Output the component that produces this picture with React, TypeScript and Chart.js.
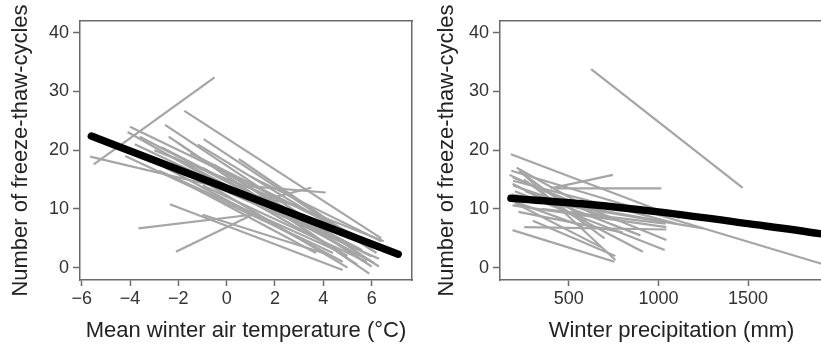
import React, { useEffect, useRef } from "react";
import { Chart, registerables } from "chart.js";

Chart.register(...registerables);

// ---------- Left panel: mean winter air temperature (°C) ----------
const tempX0 = [-5.5, -5.65, -4.0, -4.1, -3.6, -2.55, -2.4, -1.75, -0.95, -2.0, -3.65, -2.1, -2.35, 0.5, 1.5, -4.2, -2.0, -2.5, -1.0, -3.0, -1.5, 0.0, -2.8, -1.0, 0.5, -1.0, -3.8, -3.2, -2.2, -1.5, -0.5, -2.7, -1.2, 1.0];
const tempY0 = [17.6, 18.9, 24.0, 23.1, 22.3, 24.3, 22.3, 26.7, 21.9, 21.2, 6.7, 2.7, 10.8, 14.0, 11.5, 19.0, 15.0, 17.5, 17.0, 20.0, 19.5, 16.0, 16.5, 14.0, 18.5, 9.0, 21.0, 18.5, 18.8, 16.0, 17.5, 20.5, 21.0, 15.5];
const tempX1 = [-0.5, 3.0, 6.3, 5.0, 6.0, 6.3, 5.9, 6.4, 6.0, 5.4, 1.2, 1.0, 4.8, 4.1, 3.5, 4.4, 3.7, 6.3, 5.5, 6.5, 6.0, 5.0, 4.5, 5.8, 6.2, 4.0, 5.2, 4.8, 6.1, 5.0, 6.0, 5.6, 5.2, 6.4];
const tempY1 = [32.4, 10.5, 3.6, 2.0, 1.9, 0.2, -1.0, 5.0, 3.0, 0.5, 9.1, 8.9, -0.4, 12.8, 13.6, 2.5, 2.5, 1.5, 2.0, 4.5, 4.0, 4.0, 3.0, 1.0, 2.5, 2.5, 3.5, 1.0, 0.8, 0.0, 0.2, 3.0, 5.0, 4.5];
const tempFitX = [-5.6, 7.1];
const tempFitY = [22.4, 2.3];
const tempTicks = [-6, -4, -2, 0, 2, 4, 6];

// ---------- Right panel: winter precipitation (mm) ----------
const precX0 = [625, 180, 178, 234, 187, 252, 430, 400, 187, 187, 200, 187, 200, 190, 250, 200, 220, 224, 300, 180, 170, 210, 190, 260, 175, 350];
const precY0 = [33.8, 16.5, 19.3, 16.3, 6.4, 6.9, 13.5, 13.5, 15.4, 14.3, 13.0, 10.6, 12.0, 14.8, 15.0, 11.0, 9.5, 16.5, 8.0, 12.5, 15.8, 17.0, 14.0, 13.0, 11.5, 10.0];
const precX1 = [1470, 1960, 1120, 760, 755, 1044, 1016, 746, 1044, 913, 1035, 1044, 1250, 1100, 700, 680, 800, 600, 760, 1000, 650, 560, 720, 900, 580, 1040];
const precY1 = [13.6, 0.2, 8.4, 1.3, 1.0, 6.5, 13.5, 15.8, 4.7, 2.7, 3.0, 6.9, 6.7, 7.5, 5.0, 3.5, 6.0, 8.0, 2.0, 8.0, 9.0, 11.0, 8.5, 5.5, 7.0, 7.5];
const precFitX = [178, 600, 1000, 1500, 1900, 2030];
const precFitY = [11.8, 10.8, 9.5, 7.5, 5.8, 5.1];
const precTicks = [500, 1000, 1500];

const countTicks = [0, 10, 20, 30, 40];

const FONT = "'Liberation Sans', Arial, Helvetica, sans-serif";
const GRAY = "#a5a5a5";
const AXIS = "#6a6a6a";

function buildDatasets(x0: number[], y0: number[], x1: number[], y1: number[], fx: number[], fy: number[]) {
  const ds: any[] = [
    {
      data: fx.map((x, i) => ({ x, y: fy[i] })),
      borderColor: "#000",
      borderWidth: 7.5,
      borderCapStyle: "round",
      borderJoinStyle: "round",
      cubicInterpolationMode: "monotone",
      pointRadius: 0,
      fill: false,
    },
  ];
  x0.forEach((x, i) => {
    ds.push({
      data: [
        { x, y: y0[i] },
        { x: x1[i], y: y1[i] },
      ],
      borderColor: GRAY,
      borderWidth: 2.2,
      pointRadius: 0,
      fill: false,
    });
  });
  return ds;
}

function makeConfig(opts: {
  datasets: any[];
  xMin: number;
  xMax: number;
  xTicks: number[];
  xTitle: string;
  yTitlePad: number;
  rightPad: number;
}) {
  const tickFont = { family: FONT, size: 18 };
  const titleFont = { family: FONT, size: 22 };
  const fmt = (v: any) => (Number(v) < 0 ? "\u2212" + Math.abs(Number(v)) : String(v));
  return {
    type: "line",
    data: { datasets: opts.datasets },
    options: {
      responsive: false,
      animation: false,
      events: [],
      layout: { padding: { top: 21, right: opts.rightPad, bottom: 0, left: 0 } },
      plugins: { legend: { display: false }, tooltip: { enabled: false } },
      scales: {
        x: {
          type: "linear",
          position: "bottom",
          min: opts.xMin,
          max: opts.xMax,
          afterBuildTicks: (s: any) => {
            s.ticks = opts.xTicks.map((v) => ({ value: v }));
          },
          afterFit: (s: any) => {
            s.height = 68;
          },
          ticks: {
            font: tickFont,
            color: "#333",
            padding: 2,
            maxRotation: 0,
            autoSkip: false,
            callback: fmt,
          },
          grid: {
            display: true,
            drawOnChartArea: false,
            drawTicks: true,
            tickLength: 6,
            tickColor: AXIS,
            tickWidth: 1.5,
          },
          border: { display: true, color: AXIS, width: 1.5 },
          title: {
            display: true,
            text: opts.xTitle,
            font: titleFont,
            color: "#222",
            padding: { top: 0, bottom: 4 },
          },
        },
        y: {
          type: "linear",
          position: "left",
          min: -2.1,
          max: 42,
          afterBuildTicks: (s: any) => {
            s.ticks = countTicks.map((v) => ({ value: v }));
          },
          afterFit: (s: any) => {
            s.width = 80;
          },
          ticks: { font: tickFont, color: "#333", padding: 4, callback: fmt },
          grid: {
            display: true,
            drawOnChartArea: false,
            drawTicks: true,
            tickLength: 7,
            tickColor: AXIS,
            tickWidth: 1.5,
          },
          border: { display: true, color: AXIS, width: 1.5 },
          title: {
            display: true,
            text: "Number of freeze-thaw-cycles",
            font: titleFont,
            color: "#222",
            padding: { top: opts.yTitlePad, bottom: 0 },
          },
        },
        x2: {
          type: "linear",
          position: "top",
          min: opts.xMin,
          max: opts.xMax,
          ticks: { display: false },
          grid: { display: false },
          border: { display: true, color: AXIS, width: 1.5 },
          afterFit: (s: any) => {
            s.height = 0;
          },
        },
        y2: {
          type: "linear",
          position: "right",
          min: -2.1,
          max: 42,
          ticks: { display: false },
          grid: { display: false },
          border: { display: true, color: AXIS, width: 1.5 },
          afterFit: (s: any) => {
            s.width = 0;
          },
        },
      },
    },
  } as any;
}

function Panel(props: { config: any; left: number; width: number }) {
  const ref = useRef<HTMLCanvasElement | null>(null);
  useEffect(() => {
    if (!ref.current) return;
    const chart = new Chart(ref.current, props.config);
    return () => chart.destroy();
  }, []);
  return (
    <canvas
      ref={ref}
      width={props.width}
      height={348}
      style={{ position: "absolute", left: props.left, top: 0, width: props.width, height: 348 }}
    />
  );
}

export default function App() {
  const leftCfg = makeConfig({
    datasets: buildDatasets(tempX0, tempY0, tempX1, tempY1, tempFitX, tempFitY),
    xMin: -6.07,
    xMax: 7.67,
    xTicks: tempTicks,
    xTitle: "Mean winter air temperature (\u00B0C)",
    yTitlePad: 8,
    rightPad: 8,
  });
  const rightCfg = makeConfig({
    datasets: buildDatasets(precX0, precY0, precX1, precY1, precFitX, precFitY),
    xMin: 117,
    xMax: 2029,
    xTicks: precTicks,
    xTitle: "Winter precipitation (mm)",
    yTitlePad: 14,
    rightPad: 8,
  });
  return (
    <div
      style={{
        position: "absolute",
        left: 0,
        top: 0,
        width: 821,
        height: 348,
        overflow: "hidden",
        background: "#fff",
      }}
    >
      <Panel config={leftCfg} left={0} width={420} />
      <Panel config={rightCfg} left={420} width={431} />
    </div>
  );
}
